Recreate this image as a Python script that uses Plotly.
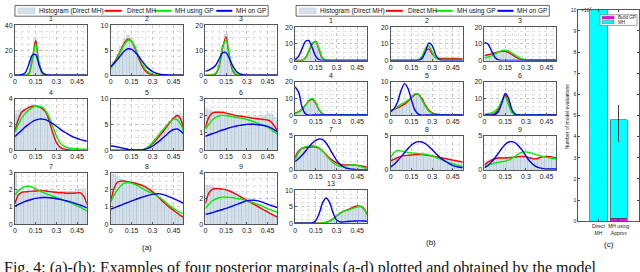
import plotly.graph_objects as go

# ---------------- data ----------------
X = [0.0, 0.025, 0.05, 0.075, 0.1, 0.125, 0.15, 0.175, 0.2, 0.225, 0.25,
     0.275, 0.3, 0.325, 0.35, 0.375, 0.4, 0.425, 0.45, 0.475, 0.5, 0.525]
X_TICKS = [0, 0.15, 0.3, 0.45]
X_TICKTEXT = ["0", "0.15", "0.3", "0.45"]
SERIES_NAMES = ["Histogram (Direct MH)", "Direct MH", "MH using GP", "MH on GP"]

# (a) panels
A1_HIST = [0, 0, 0, 0.2, 2, 15, 30, 10, 1.5, 0.2, 0, 0, 0, 0, 0, 0, 0, 0, 0, 0, 0, 0]
A1_RED = [0, 0, 0, 0, 1, 12, 28, 9, 1, 0, 0, 0, 0, 0, 0, 0, 0, 0, 0, 0, 0, 0]
A1_GREEN = [0, 0, 0, 0.1, 1.5, 13, 25, 9, 1.2, 0.1, 0, 0, 0, 0, 0, 0, 0, 0, 0, 0, 0, 0]
A1_BLUE = [0, 0, 0.3, 2, 8.5, 16, 16.5, 8, 2, 0.3, 0, 0, 0, 0, 0, 0, 0, 0, 0, 0, 0, 0]

A2_HIST = [1.6, 2.8, 4.2, 5.8, 7.2, 8.0, 7.4, 5.8, 3.8, 2.0, 0.9, 0.35, 0.1, 0, 0, 0, 0, 0, 0, 0, 0, 0]
A2_RED = [1.5, 2.5, 3.8, 5.2, 6.6, 7.3, 6.8, 5.3, 3.4, 1.8, 0.8, 0.3, 0.1, 0, 0, 0, 0, 0, 0, 0, 0, 0]
A2_GREEN = [1.3, 2.3, 3.6, 5.0, 6.3, 7.0, 6.8, 5.5, 3.8, 2.2, 1.1, 0.5, 0.2, 0.05, 0, 0, 0, 0, 0, 0, 0, 0]
A2_BLUE = [1.7, 2.4, 3.2, 4.1, 4.9, 5.3, 5.2, 4.6, 3.8, 2.8, 1.9, 1.2, 0.7, 0.4, 0.2, 0.1, 0.05, 0, 0, 0, 0, 0]

A3_HIST = [0, 0, 0.1, 0.8, 4, 12, 16.5, 7.5, 1.6, 0.2, 0, 0, 0, 0, 0, 0, 0, 0, 0, 0, 0, 0]
A3_RED = [0, 0, 0.1, 0.6, 3.5, 11, 15.5, 7, 1.5, 0.2, 0, 0, 0, 0, 0, 0, 0, 0, 0, 0, 0, 0]
A3_GREEN = [0, 0, 0.1, 0.8, 4, 11.5, 14, 7.5, 2, 0.3, 0, 0, 0, 0, 0, 0, 0, 0, 0, 0, 0, 0]
A3_BLUE = [1.5, 2, 2.8, 4, 6.5, 9, 9, 6.5, 3.5, 1.5, 0.5, 0.15, 0, 0, 0, 0, 0, 0, 0, 0, 0, 0]

A4_HIST = [2.8, 3.1, 3.2, 3.3, 3.4, 3.5, 3.5, 3.4, 3.2, 2.9, 2.3, 1.4, 0.7, 0.3, 0.12, 0.05, 0, 0, 0, 0, 0, 0]
A4_RED = [1.5, 2.4, 2.95, 3.15, 3.3, 3.4, 3.4, 3.35, 3.2, 2.9, 2.2, 1.3, 0.6, 0.25, 0.1, 0.05, 0, 0, 0, 0, 0, 0]
A4_GREEN = [1.4, 2.0, 2.5, 2.85, 3.1, 3.3, 3.4, 3.4, 3.3, 3.0, 2.5, 1.8, 1.1, 0.6, 0.35, 0.22, 0.15, 0.12, 0.1, 0.08, 0.07, 0.06]
A4_BLUE = [1.05, 1.3, 1.55, 1.8, 2.0, 2.2, 2.32, 2.4, 2.4, 2.35, 2.2, 2.05, 1.85, 1.65, 1.45, 1.3, 1.15, 1.0, 0.9, 0.82, 0.75, 0.68]

A5_HIST = [0, 0, 0, 0, 0, 0, 0, 0, 0, 0.1, 0.35, 0.8, 1.4, 2.1, 2.9, 3.8, 4.7, 5.6, 6.4, 7.0, 7.0, 6.6]
A5_RED = [0, 0, 0, 0, 0, 0, 0, 0, 0, 0.05, 0.3, 0.7, 1.3, 2.0, 2.8, 3.6, 4.5, 5.4, 6.2, 6.7, 6.0, 3.5]
A5_GREEN = [0, 0, 0, 0, 0, 0, 0, 0, 0, 0.05, 0.35, 0.8, 1.5, 2.3, 3.2, 4.0, 4.8, 5.5, 6.0, 5.9, 5.0, 3.4]
A5_BLUE = [0.8, 0.75, 0.6, 0.45, 0.3, 0.15, 0.08, 0.03, 0.02, 0.05, 0.2, 0.45, 0.8, 1.3, 1.8, 2.4, 3.0, 3.6, 4.0, 4.1, 3.7, 3.0]

A6_HIST = [2.4, 2.35, 2.3, 2.25, 2.2, 2.2, 2.15, 2.1, 2.05, 2.0, 2.0, 1.98, 1.95, 1.95, 1.95, 1.95, 1.95, 2.0, 2.1, 2.1, 1.9, 1.7]
A6_RED = [1.3, 1.9, 2.15, 2.2, 2.2, 2.2, 2.15, 2.1, 2.05, 2.0, 1.98, 1.95, 1.92, 1.88, 1.85, 1.82, 1.8, 1.78, 1.75, 1.65, 1.4, 1.1]
A6_GREEN = [1.2, 1.5, 1.75, 1.9, 2.0, 2.02, 2.0, 1.97, 1.93, 1.9, 1.87, 1.83, 1.78, 1.72, 1.65, 1.57, 1.5, 1.42, 1.33, 1.2, 1.05, 0.9]
A6_BLUE = [0.8, 0.88, 0.95, 1.02, 1.1, 1.17, 1.23, 1.3, 1.35, 1.4, 1.44, 1.47, 1.5, 1.5, 1.5, 1.48, 1.46, 1.43, 1.38, 1.3, 1.18, 1.05]

A7_HIST = [3.0, 2.0, 1.9, 1.9, 1.9, 1.9, 1.9, 1.9, 1.9, 1.9, 1.9, 1.9, 1.9, 1.9, 1.9, 1.9, 1.9, 1.9, 2.05, 2.05, 2.05, 1.5]
A7_RED = [1.2, 1.7, 1.85, 1.88, 1.9, 1.92, 1.93, 1.95, 1.95, 1.93, 1.9, 1.87, 1.85, 1.83, 1.82, 1.8, 1.8, 1.8, 1.82, 1.82, 1.6, 1.1]
A7_GREEN = [1.7, 1.95, 2.1, 2.2, 2.2, 2.15, 2.05, 1.95, 1.85, 1.77, 1.7, 1.62, 1.55, 1.48, 1.4, 1.33, 1.25, 1.17, 1.07, 0.97, 0.86, 0.75]
A7_BLUE = [1.05, 1.15, 1.24, 1.32, 1.39, 1.45, 1.5, 1.53, 1.55, 1.55, 1.54, 1.52, 1.48, 1.44, 1.4, 1.35, 1.3, 1.24, 1.17, 1.1, 1.02, 0.95]

A8_HIST = [3.0, 2.9, 2.75, 2.6, 2.55, 2.5, 2.45, 2.4, 2.35, 2.3, 2.2, 2.1, 1.95, 1.75, 1.55, 1.35, 1.15, 1.0, 0.85, 0.7, 0.55, 0.45]
A8_RED = [1.3, 2.1, 2.45, 2.5, 2.5, 2.45, 2.42, 2.38, 2.32, 2.25, 2.15, 2.02, 1.88, 1.7, 1.5, 1.3, 1.12, 0.95, 0.8, 0.65, 0.5, 0.38]
A8_GREEN = [1.3, 1.7, 2.0, 2.25, 2.38, 2.42, 2.38, 2.3, 2.2, 2.08, 1.97, 1.87, 1.78, 1.68, 1.55, 1.4, 1.22, 1.05, 0.9, 0.78, 0.67, 0.58]
A8_BLUE = [0.87, 0.95, 1.03, 1.11, 1.19, 1.27, 1.35, 1.43, 1.5, 1.57, 1.63, 1.69, 1.73, 1.76, 1.76, 1.72, 1.65, 1.57, 1.48, 1.4, 1.3, 1.2]

A9_HIST = [3.0, 3.0, 2.9, 2.85, 2.8, 2.75, 2.7, 2.6, 2.5, 2.35, 2.2, 2.05, 1.9, 1.75, 1.6, 1.45, 1.3, 1.15, 1.0, 0.85, 0.7, 0.6]
A9_RED = [1.6, 2.4, 2.7, 2.75, 2.75, 2.72, 2.66, 2.57, 2.45, 2.3, 2.15, 2.0, 1.85, 1.7, 1.55, 1.4, 1.25, 1.1, 0.95, 0.8, 0.67, 0.53]
A9_GREEN = [1.2, 1.55, 1.8, 1.95, 2.05, 2.1, 2.1, 2.08, 2.05, 2.0, 1.95, 1.9, 1.83, 1.75, 1.65, 1.55, 1.45, 1.33, 1.2, 1.1, 1.0, 0.9]
A9_BLUE = [0.75, 0.82, 0.9, 0.98, 1.06, 1.14, 1.22, 1.32, 1.42, 1.52, 1.62, 1.72, 1.82, 1.86, 1.86, 1.82, 1.75, 1.65, 1.55, 1.45, 1.37, 1.28]

# (b) panels
B1_RED = [0, 0, 0.1, 1.5, 5.5, 10, 11.5, 6, 1, 0.1, 0, 0, 0, 0, 0, 0, 0, 0, 0, 0, 0, 0]
B1_GREEN = [0, 0, 0.2, 1.8, 6, 10.5, 11.2, 6.5, 1.5, 0.2, 0, 0, 0, 0, 0, 0, 0, 0, 0, 0, 0, 0]
B1_BLUE = [0.5, 2.5, 7, 11.5, 12, 7.5, 2.5, 0.4, 0, 0, 0, 0, 0, 0, 0, 0, 0, 0, 0, 0, 0, 0]
B1_HIST = [0, 0, 0.1, 1.6, 5.8, 10.5, 11.5, 6.2, 1.1, 0.1, 0, 0, 0, 0, 0, 0, 0, 0, 0, 0, 0, 0]

B2_RED = [0, 0, 0, 0, 0, 0, 0, 0, 0.3, 2, 5.5, 7, 4, 1.8, 1.3, 1.2, 1.2, 1.2, 1.2, 1.2, 1.1, 1.0]
B2_GREEN = [0, 0, 0, 0, 0, 0, 0, 0, 0.4, 2.5, 7, 9, 5, 1.5, 0.7, 0.6, 0.6, 0.6, 0.6, 0.6, 0.6, 0.5]
B2_BLUE = [0, 0, 0, 0, 0, 0, 0, 0, 0.1, 1, 5, 10.5, 9, 3.5, 0.6, 0, 0, 0, 0, 0, 0, 0]
B2_HIST = [0, 0, 0, 0, 0, 0, 0, 0, 0.4, 2.4, 6.5, 8, 4.5, 1.8, 1.2, 1.1, 1.1, 1.1, 1.1, 1.1, 1.0, 0.9]

B3_RED = [3, 3.5, 4, 4.6, 5.2, 5.6, 5.5, 4.8, 3.5, 2.2, 1.2, 0.6, 0.4, 0.3, 0.3, 0.3, 0.3, 0.3, 0.3, 0.3, 0.3, 0.4]
B3_GREEN = [1.5, 2, 2.8, 3.8, 5, 6, 6.2, 5.6, 4.4, 3, 1.8, 0.9, 0.35, 0.1, 0, 0, 0, 0, 0, 0, 0, 0]
B3_BLUE = [11, 10, 6, 2, 0.4, 0, 0, 0, 0, 0, 0, 0, 0, 0, 0, 0, 0, 0, 0, 0, 0, 0]
B3_HIST = [2.8, 3.4, 4.0, 4.7, 5.3, 5.7, 5.6, 4.9, 3.6, 2.3, 1.3, 0.6, 0.35, 0.25, 0.25, 0.25, 0.25, 0.25, 0.25, 0.25, 0.3, 0.3]

B4_RED = [1.2, 2, 3.5, 6, 8.5, 9.5, 7, 3, 0.6, 0, 0, 0, 0, 0, 0, 0, 0, 0, 0, 0, 0, 0]
B4_GREEN = [0.8, 1.7, 3.2, 5.8, 8.8, 10, 7.5, 3.2, 0.7, 0, 0, 0, 0, 0, 0, 0, 0, 0, 0, 0, 0, 0]
B4_BLUE = [17, 14, 5, 0.8, 0, 0, 0, 0, 0, 0, 0, 0, 0, 0, 0, 0, 0, 0, 0, 0, 0, 0]
B4_HIST = [1.2, 2.1, 3.6, 6.2, 8.8, 10, 7.4, 3.1, 0.6, 0, 0, 0, 0, 0, 0, 0, 0, 0, 0, 0, 0, 0]

B5_RED = [1.5, 1.8, 2.2, 2.7, 3.3, 4.2, 5.3, 6.2, 6.3, 5, 3, 1.5, 0.7, 0.35, 0.2, 0.1, 0.05, 0, 0, 0, 0, 0]
B5_GREEN = [1.2, 1.8, 2.6, 3.3, 3.8, 4.5, 5.5, 6.4, 6.2, 4.6, 2.6, 1.2, 0.5, 0.2, 0.05, 0, 0, 0, 0, 0, 0, 0]
B5_BLUE = [1, 2, 4, 7.5, 9.5, 8, 4.5, 1.5, 0.3, 0, 0, 0, 0, 0, 0, 0, 0, 0, 0, 0, 0, 0]
B5_HIST = [1.5, 1.9, 2.4, 2.9, 3.5, 4.4, 5.5, 6.4, 6.4, 5, 3, 1.4, 0.6, 0.3, 0.15, 0.05, 0, 0, 0, 0, 0, 0]

B6_RED = [0, 0, 0.3, 1, 3.5, 8, 12, 7, 1.8, 0.3, 0, 0, 0, 0, 0, 0, 0, 0, 0, 0, 0, 0]
B6_GREEN = [0.5, 0.8, 1.3, 2.3, 4.5, 8.5, 11, 6, 1.5, 0.2, 0, 0, 0, 0, 0, 0, 0, 0, 0, 0, 0, 0]
B6_BLUE = [0, 0, 0, 0.3, 2, 7, 13, 10, 3, 0.4, 0, 0, 0, 0, 0, 0, 0, 0, 0, 0, 0, 0]
B6_HIST = [0, 0, 0.3, 1.1, 3.6, 8.2, 11.5, 6.8, 1.7, 0.3, 0, 0, 0, 0, 0, 0, 0, 0, 0, 0, 0, 0]

B7_RED = [1.8, 2.7, 3.1, 3.25, 3.3, 3.35, 3.3, 3.1, 2.7, 2.2, 1.7, 1.3, 1.0, 0.8, 0.7, 0.7, 0.7, 0.7, 0.65, 0.55, 0.45, 0.35]
B7_GREEN = [1.5, 2.5, 3.1, 3.35, 3.45, 3.5, 3.4, 3.15, 2.7, 2.1, 1.5, 1.0, 0.65, 0.5, 0.5, 0.6, 0.7, 0.7, 0.6, 0.45, 0.3, 0.2]
B7_BLUE = [1.2, 1.6, 2.1, 2.7, 3.3, 3.9, 4.3, 4.5, 4.4, 3.9, 3.1, 2.2, 1.4, 0.8, 0.4, 0.2, 0.1, 0.05, 0, 0, 0, 0]
B7_HIST = [2.2, 2.9, 3.2, 3.3, 3.35, 3.35, 3.3, 3.1, 2.7, 2.2, 1.7, 1.3, 1.0, 0.8, 0.7, 0.7, 0.7, 0.7, 0.65, 0.55, 0.45, 0.35]

B8_RED = [1.3, 1.5, 1.75, 1.95, 2.05, 2.1, 2.15, 2.2, 2.2, 2.2, 2.15, 2.1, 2.0, 1.9, 1.8, 1.7, 1.6, 1.5, 1.4, 1.3, 1.2, 1.1]
B8_GREEN = [1.8, 2.5, 2.8, 2.75, 2.6, 2.5, 2.45, 2.4, 2.35, 2.3, 2.25, 2.15, 2.0, 1.8, 1.6, 1.4, 1.2, 1.0, 0.85, 0.7, 0.55, 0.45]
B8_BLUE = [0.4, 0.8, 1.3, 1.9, 2.5, 3.1, 3.6, 3.95, 4.1, 4.05, 3.8, 3.4, 2.9, 2.4, 1.9, 1.5, 1.15, 0.85, 0.6, 0.45, 0.35, 0.3]
B8_HIST = [1.7, 1.8, 1.9, 2.0, 2.05, 2.1, 2.15, 2.2, 2.2, 2.2, 2.15, 2.1, 2.0, 1.9, 1.8, 1.7, 1.6, 1.5, 1.4, 1.3, 1.2, 1.1]

B9_RED = [0.7, 1.1, 1.4, 1.6, 1.7, 1.7, 1.7, 1.75, 1.8, 1.85, 1.9, 1.95, 1.9, 1.75, 1.6, 1.6, 1.75, 1.9, 1.95, 1.9, 1.8, 1.7]
B9_GREEN = [0.5, 0.65, 0.8, 0.95, 1.05, 1.15, 1.25, 1.4, 1.65, 2.0, 2.35, 2.55, 2.6, 2.5, 2.35, 2.2, 2.05, 1.9, 1.8, 1.7, 1.65, 1.6]
B9_BLUE = [0.3, 0.6, 1.1, 1.7, 2.4, 3.1, 3.7, 4.05, 4.1, 3.9, 3.4, 2.8, 2.0, 1.3, 0.8, 0.45, 0.25, 0.15, 0.1, 0.1, 0.1, 0.1]
B9_HIST = [1.0, 1.3, 1.5, 1.65, 1.75, 1.75, 1.75, 1.8, 1.85, 1.9, 1.95, 2.0, 1.95, 1.8, 1.7, 1.7, 1.8, 1.9, 1.95, 1.9, 1.8, 1.7]

B13_RED = [0, 0, 0, 0, 0, 0, 0, 0, 0.1, 0.3, 0.7, 1.3, 2.1, 3.0, 3.6, 4.0, 4.4, 4.9, 5.2, 5.1, 4.3, 2.5]
B13_GREEN = [0, 0, 0, 0, 0, 0, 0, 0.02, 0.1, 0.3, 0.7, 1.3, 2.2, 3.1, 3.6, 3.9, 4.2, 4.6, 4.9, 5.0, 4.2, 2.4]
B13_BLUE = [0, 0, 0, 0, 0, 0.1, 0.8, 3, 6.2, 7.6, 6.3, 3.2, 1, 0.4, 0.4, 0.5, 0.6, 0.65, 0.7, 0.7, 0.65, 0.6]
B13_HIST = [0, 0, 0, 0, 0, 0, 0, 0, 0.1, 0.3, 0.8, 1.4, 2.2, 3.1, 3.7, 4.1, 4.5, 5.0, 5.3, 5.2, 4.6, 3.5]

# (c) bar chart, units of 1e4 model evaluations
C_CATEGORIES = ["Direct<br>MH", "MH using<br>Approx"]
C_BUILD_GP = [0, 0.15]
C_MH = [10, 4.65]
C_ERR_PLUS = [0, 0.7]
C_ERR_MINUS = [0, 1.05]

PANELS_A = [
    ("1", A1_HIST, A1_RED, A1_GREEN, A1_BLUE, 40, 20),
    ("2", A2_HIST, A2_RED, A2_GREEN, A2_BLUE, 10, 5),
    ("3", A3_HIST, A3_RED, A3_GREEN, A3_BLUE, 20, 10),
    ("4", A4_HIST, A4_RED, A4_GREEN, A4_BLUE, 4, 2),
    ("5", A5_HIST, A5_RED, A5_GREEN, A5_BLUE, 10, 5),
    ("6", A6_HIST, A6_RED, A6_GREEN, A6_BLUE, 3, 1),
    ("7", A7_HIST, A7_RED, A7_GREEN, A7_BLUE, 3, 1),
    ("8", A8_HIST, A8_RED, A8_GREEN, A8_BLUE, 3, 1),
    ("9", A9_HIST, A9_RED, A9_GREEN, A9_BLUE, 4, 2),
]
PANELS_B = [
    ("1", B1_HIST, B1_RED, B1_GREEN, B1_BLUE, 20, 10),
    ("2", B2_HIST, B2_RED, B2_GREEN, B2_BLUE, 20, 10),
    ("3", B3_HIST, B3_RED, B3_GREEN, B3_BLUE, 20, 10),
    ("4", B4_HIST, B4_RED, B4_GREEN, B4_BLUE, 20, 10),
    ("5", B5_HIST, B5_RED, B5_GREEN, B5_BLUE, 10, 5),
    ("6", B6_HIST, B6_RED, B6_GREEN, B6_BLUE, 20, 10),
    ("7", B7_HIST, B7_RED, B7_GREEN, B7_BLUE, 5, 5),
    ("8", B8_HIST, B8_RED, B8_GREEN, B8_BLUE, 5, 5),
    ("9", B9_HIST, B9_RED, B9_GREEN, B9_BLUE, 5, 5),
    ("13", B13_HIST, B13_RED, B13_GREEN, B13_BLUE, 10, 5),
]

# ---------------- layout (pixels) ----------------
W, H = 640, 272
FONT = "Liberation Sans, Arial, sans-serif"
A_COLS = [(13, 85), (109, 182), (204, 276)]
A_ROWS = [(22, 73), (97, 150), (173, 226)]
B_COLS = [(294, 366), (390, 462), (484, 556)]
B_ROWS = [(24, 58), (80, 114), (135, 170), (191, 225)]

HIST_FILL = "rgba(205,220,232,0.85)"
HIST_EDGE = "rgba(150,172,192,0.55)"
LINE_COLORS = ["#ff0000", "#00ee00", "#0000ff"]


def px_x(a, b):
    return [a / W, b / W]


def px_y(top, bottom):
    return [1 - bottom / H, 1 - top / H]


fig = go.Figure()
layout = {}
annotations = []
shapes = []

slots = []
for i in range(9):
    slots.append((A_COLS[i % 3], A_ROWS[i // 3]))
for i in range(9):
    slots.append((B_COLS[i % 3], B_ROWS[i // 3]))
slots.append((B_COLS[0], B_ROWS[3]))

panels = PANELS_A + PANELS_B
for k, (panel, (cx, ry)) in enumerate(zip(panels, slots), start=1):
    title, hist, red, green, blue, ymax, ystep = panel
    xa, ya = f"x{k}", f"y{k}"
    fig.add_trace(go.Bar(x=X, y=hist, width=0.025, xaxis=xa, yaxis=ya,
                         marker=dict(color=HIST_FILL, line=dict(color=HIST_EDGE, width=0.4)),
                         name=SERIES_NAMES[0], showlegend=False))
    for vals, col, nm in zip([red, green, blue], LINE_COLORS, SERIES_NAMES[1:]):
        fig.add_trace(go.Scatter(x=X, y=vals, mode="lines", xaxis=xa, yaxis=ya,
                                 line=dict(color=col, width=1.4, shape="spline", smoothing=0.8),
                                 name=nm, showlegend=False, cliponaxis=True))
    layout[f"xaxis{k}"] = dict(
        domain=px_x(*cx), anchor=ya, range=[0, 0.52],
        tickvals=X_TICKS, ticktext=X_TICKTEXT, ticks="inside", ticklen=2,
        tickcolor="#555", showline=True, mirror=True, linecolor="#555", linewidth=0.8,
        showgrid=True, gridcolor="#c8c8c8", griddash="dot", gridwidth=0.6,
        minor=dict(dtick=0.05, tick0=0, showgrid=True, gridcolor="#e2e2e2",
                   griddash="dot", gridwidth=0.5, ticks=""),
        tickfont=dict(size=7, color="#222", family=FONT), zeroline=False, fixedrange=True)
    layout[f"yaxis{k}"] = dict(
        domain=px_y(*ry), anchor=xa, range=[0, ymax], dtick=ystep, tick0=0,
        ticks="inside", ticklen=2, tickcolor="#555", showline=True, mirror=True,
        linecolor="#555", linewidth=0.8,
        showgrid=True, gridcolor="#c8c8c8", griddash="dot", gridwidth=0.6,
        minor=dict(dtick=ystep / 4, showgrid=True, gridcolor="#e2e2e2",
                   griddash="dot", gridwidth=0.5, ticks=""),
        tickfont=dict(size=7, color="#222", family=FONT), zeroline=False, fixedrange=True)
    annotations.append(dict(x=(cx[0] + cx[1]) / 2 / W, y=1 - (ry[0] - 1) / H,
                            xref="paper", yref="paper", text=title, showarrow=False,
                            xanchor="center", yanchor="bottom",
                            font=dict(size=7, color="#222", family=FONT)))

# ---------------- (c) bar chart ----------------
kc = len(panels) + 1
fig.add_trace(go.Bar(x=[1, 2], y=C_BUILD_GP, width=0.85, xaxis=f"x{kc}", yaxis=f"y{kc}",
                     marker=dict(color="#ff00ff", line=dict(color="#444", width=0.6)),
                     name="Build GP", showlegend=False))
fig.add_trace(go.Bar(x=[1, 2], y=C_MH, width=0.85, xaxis=f"x{kc}", yaxis=f"y{kc}",
                     marker=dict(color="#00ffff", line=dict(color="#444", width=0.6)),
                     error_y=dict(type="data", symmetric=False, array=C_ERR_PLUS,
                                  arrayminus=C_ERR_MINUS, color="#111", thickness=0.8, width=0),
                     name="MH", showlegend=False))
layout[f"xaxis{kc}"] = dict(domain=px_x(578, 639), anchor=f"y{kc}", range=[0, 3],
                           tickvals=[1, 2], ticktext=C_CATEGORIES, ticks="inside", ticklen=2,
                           showline=True, mirror="allticks", linecolor="#555", linewidth=0.8,
                           showgrid=False, zeroline=False,
                           tickfont=dict(size=5, color="#222", family=FONT))
layout[f"yaxis{kc}"] = dict(domain=px_y(6, 223), anchor=f"x{kc}", range=[0, 10], dtick=1,
                           ticks="inside", ticklen=2, showline=True, mirror="allticks",
                           linecolor="#555", linewidth=0.8, showgrid=False, zeroline=False,
                           tickfont=dict(size=5, color="#222", family=FONT))
annotations.append(dict(x=579 / W, y=1 - 1 / H, xref="paper", yref="paper", text="×10<sup>4</sup>",
                        showarrow=False, xanchor="left", yanchor="top",
                        font=dict(size=5, color="#222", family=FONT)))
annotations.append(dict(x=567 / W, y=1 - 115 / H, xref="paper", yref="paper",
                        text="Number of model evaluations", textangle=-90, showarrow=False,
                        xanchor="center", yanchor="middle",
                        font=dict(size=5, color="#222", family=FONT)))
# (c) legend
shapes.append(dict(type="rect", xref="paper", yref="paper", x0=600 / W, x1=637 / W,
                   y0=1 - 22 / H, y1=1 - 11 / H, fillcolor="white", line=dict(color="#666", width=0.6)))
for (yy, col, txt) in [(14, "#ff00ff", "Build GP"), (18.5, "#00ffff", "MH")]:
    shapes.append(dict(type="rect", xref="paper", yref="paper", x0=602 / W, x1=614 / W,
                       y0=1 - (yy + 1.5) / H, y1=1 - (yy - 1.5) / H, fillcolor=col,
                       line=dict(color="#444", width=0.4)))
    annotations.append(dict(x=615.5 / W, y=1 - yy / H, xref="paper", yref="paper", text=txt,
                            showarrow=False, xanchor="left", yanchor="middle",
                            font=dict(size=4.5, color="#222", family=FONT)))

# ---------------- legends for (a) and (b) ----------------
def add_legend(x0):
    shapes.append(dict(type="rect", xref="paper", yref="paper", x0=x0 / W, x1=(x0 + 254) / W,
                       y0=1 - 12.5 / H, y1=1 - 1.5 / H, fillcolor="white",
                       line=dict(color="#444", width=0.8)))
    shapes.append(dict(type="rect", xref="paper", yref="paper", x0=(x0 + 3) / W, x1=(x0 + 20) / W,
                       y0=1 - 10 / H, y1=1 - 4 / H, fillcolor=HIST_FILL,
                       line=dict(color=HIST_EDGE, width=0.5)))
    segs = [(90, 107, LINE_COLORS[0]), (140, 157, LINE_COLORS[1]), (202, 218, LINE_COLORS[2])]
    for a, b, col in segs:
        shapes.append(dict(type="line", xref="paper", yref="paper", x0=(x0 + a) / W,
                           x1=(x0 + b) / W, y0=1 - 7 / H, y1=1 - 7 / H,
                           line=dict(color=col, width=2)))
    for tx, txt in zip([22, 110, 159, 220], SERIES_NAMES):
        annotations.append(dict(x=(x0 + tx) / W, y=1 - 7 / H, xref="paper", yref="paper",
                                text=txt, showarrow=False, xanchor="left", yanchor="middle",
                                font=dict(size=6.5, color="#111", family=FONT)))


add_legend(13)
add_legend(295)

for txt, xx, yy in [("(a)", 145, 250), ("(b)", 430, 245), ("(c)", 609, 247)]:
    annotations.append(dict(x=xx / W, y=1 - yy / H, xref="paper", yref="paper", text=txt,
                            showarrow=False, xanchor="center", yanchor="middle",
                            font=dict(size=8, color="#111", family=FONT)))

annotations.append(dict(x=0 / W, y=1 - 260 / H, xref="paper", yref="paper",
                        text="Fig. 4: (a)-(b): Examples of four posterior marginals (a-d) plotted and obtained by the model",
                        showarrow=False, xanchor="left", yanchor="top",
                        font=dict(size=16, color="#111", family="Liberation Serif, serif")))

layout.update(dict(width=W, height=H, margin=dict(l=0, r=0, t=0, b=0),
                   paper_bgcolor="white", plot_bgcolor="white", showlegend=False,
                   barmode="stack", annotations=annotations, shapes=shapes))
fig.update_layout(**layout)
fig.write_html("out.html", config=dict(displayModeBar=False),
               post_script="document.body.style.margin='0px';document.body.style.overflow='hidden';")
